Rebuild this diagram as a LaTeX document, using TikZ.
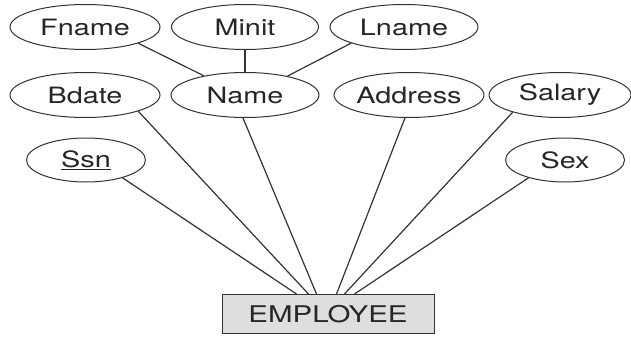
\documentclass[tikz,border=0pt]{standalone}
\usepackage{fontspec}
\setmainfont[FakeStretch=1.28]{TeX Gyre Heros}
\usepackage{tikz}
\usetikzlibrary{shapes.geometric}
\tikzset{attr/.style={draw=black!80,line width=1pt,ellipse,inner sep=0pt,minimum height=45pt,text=black!85,font=\fontsize{22.5}{26}\selectfont}}
\tikzset{entity/.style={draw=black!80,line width=1pt,fill=black!13,rectangle,minimum width=212pt,minimum height=39pt,text=black!85,font=\fontsize{23}{26}\selectfont}}
\tikzset{link/.style={draw=black!80,line width=1.2pt}}

\begin{document}
\begin{tikzpicture}[x=1pt,y=-1pt]
		\useasboundingbox[fill=white] (0,0) rectangle (631,337);
		% attributes
		\node[attr,minimum width=150pt] (fname) at (85,27) {Fname};
		\node[attr,minimum width=147pt] (minit) at (245,27) {Minit};
		\node[attr,minimum width=148pt] (lname) at (404,27) {Lname};
		\node[attr,minimum width=150pt] (bdate) at (85,95) {Bdate};
		\node[attr,minimum width=148pt] (name) at (245,95) {Name};
		\node[attr,minimum width=150pt] (address) at (409,95) {Address};
		\node[attr,minimum width=142pt] (salary) at (560,95) {Salary};
		\node[attr,minimum width=119pt,minimum height=44pt] (ssn) at (86,160) {\underline{Ssn}};
		\node[attr,minimum width=119pt,minimum height=44pt] (sex) at (565,160) {Sex};
		% entity
		\node[entity] (emp) at (328,314) {EMPLOYEE};
		\coordinate (e1) at ([xshift=75pt]emp.north west);
		\coordinate (e2) at ([xshift=87pt]emp.north west);
		\coordinate (e3) at ([xshift=95pt]emp.north west);
		\coordinate (e4) at ([xshift=115pt]emp.north west);
		\coordinate (e5) at ([xshift=123pt]emp.north west);
		\coordinate (e6) at ([xshift=133pt]emp.north west);
		% composite
		\path[link] (fname.-17) -- (name.155);
		\path[link] (minit.south) -- (name.north);
		\path[link] (lname.-163) -- (name.24);
		% to entity
		\path[link] (ssn.-26) -- (e1);
		\path[link] (bdate.-17) -- (e2);
		\path[link] (name.-95) -- (e3);
		\path[link] (address.-100) -- (e4);
		\path[link] (salary.-160) -- (e5);
		\path[link] (sex.-154) -- (e6);
	\end{tikzpicture}
\end{document}
